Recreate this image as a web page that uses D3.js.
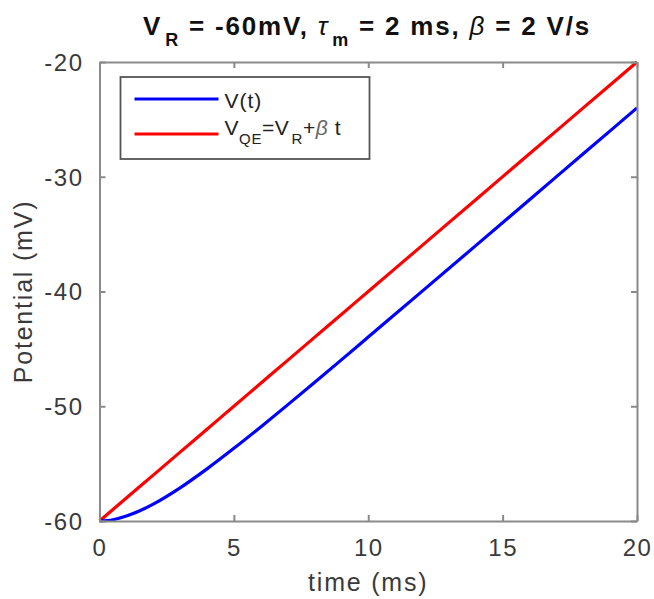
<!DOCTYPE html>
<html>
<head>
<meta charset="utf-8">
<script src="https://cdn.jsdelivr.net/npm/d3@7"></script>
<style>
  body { margin: 0; background: #fff; }
  svg text { font-family: "Liberation Sans", Arial, sans-serif; }
</style>
</head>
<body>
<svg id="chart" width="654" height="599"></svg>
<script>
// time samples (ms) and potentials (mV)
const timeMs = [0, 0.5, 1, 1.5, 2, 3, 4, 5, 6, 7, 8, 9, 10, 12, 14, 16, 18, 20];
const vMembrane = [-60, -59.89, -59.57, -59.11, -58.53, -57.11, -55.46, -53.67, -51.8, -49.88,
  -47.93, -45.96, -43.97, -39.99, -36.0, -32.0, -28.0, -24.0];
const vQE = [-60, -59, -58, -57, -56, -54, -52, -50, -48, -46, -44, -42, -40, -36, -32, -28, -24, -20];
const xTicks = [0, 5, 10, 15, 20];
const yTicks = [-60, -50, -40, -30, -20];

const svg = d3.select("#chart");
// Margin convention (plot box matches the reference)
const margin = { top: 62, right: 17, bottom: 78, left: 99.5 };
const width = 654, height = 599;
const innerW = width - margin.left - margin.right;
const innerH = height - margin.top - margin.bottom;

const x = d3.scaleLinear().domain([0, 20]).range([0, innerW]);
const y = d3.scaleLinear().domain([-60, -20]).range([innerH, 0]);

const g = svg.append("g").attr("transform", `translate(${margin.left},${margin.top})`);

const axisColor = "#8a8a8a";
const textColor = "#3a3a3a";

// data lines
const line = d3.line()
  .x((d, i) => x(timeMs[i]))
  .y((d) => y(d))
  .curve(d3.curveMonotoneX);

g.append("path").datum(vQE)
  .attr("d", line).attr("fill", "none")
  .attr("stroke", "#ff0000").attr("stroke-width", 3.2);
g.append("path").datum(vMembrane)
  .attr("d", line).attr("fill", "none")
  .attr("stroke", "#0000ff").attr("stroke-width", 3.2);

// axes (ticks inside, box on); plain hyphen for negatives like the original
const fmt = (d) => String(d);
const tickLen = 6;
const xAxisB = g.append("g").attr("transform", `translate(0,${innerH})`)
  .call(d3.axisBottom(x).tickValues(xTicks).tickFormat(fmt).tickSizeInner(-tickLen).tickSizeOuter(0).tickPadding(18));
const xAxisT = g.append("g")
  .call(d3.axisTop(x).tickValues(xTicks).tickSizeInner(-tickLen).tickSizeOuter(0).tickFormat(""));
const yAxisL = g.append("g")
  .call(d3.axisLeft(y).tickValues(yTicks).tickFormat(fmt).tickSizeInner(-tickLen).tickSizeOuter(0).tickPadding(16));
const yAxisR = g.append("g").attr("transform", `translate(${innerW},0)`)
  .call(d3.axisRight(y).tickValues(yTicks).tickSizeInner(-tickLen).tickSizeOuter(0).tickFormat(""));

[xAxisB, xAxisT, yAxisL, yAxisR].forEach((a) => {
  a.selectAll("path, line").attr("stroke", axisColor).attr("stroke-width", 2);
  a.selectAll("text").attr("fill", textColor).attr("font-size", 24)
    .attr("letter-spacing", 1.5)
    .style("font-family", "'Liberation Sans', Arial, sans-serif");
});
yAxisL.selectAll("text").attr("dy", "0.35em");

// axis labels
svg.append("text")
  .attr("x", margin.left + innerW / 2).attr("y", 591)
  .attr("text-anchor", "middle").attr("font-size", 25).attr("letter-spacing", 1.8)
  .attr("fill", textColor)
  .text("time (ms)");
svg.append("text")
  .attr("transform", `translate(32,${margin.top + innerH / 2}) rotate(-90)`)
  .attr("text-anchor", "middle").attr("font-size", 25).attr("letter-spacing", 1.8)
  .attr("fill", textColor)
  .text("Potential (mV)");

// title
const title = svg.append("text")
  .attr("x", 367).attr("y", 35)
  .attr("text-anchor", "middle").attr("font-size", 26).attr("font-weight", "bold")
  .attr("letter-spacing", 1.8).attr("fill", "#111");
title.append("tspan").text("V");
title.append("tspan").attr("font-size", 18).attr("dy", 11).attr("dx", 3).text("R");
title.append("tspan").attr("dy", -11).text(" = -60mV, ");
title.append("tspan").attr("font-style", "italic").attr("font-weight", "normal").text("τ");
title.append("tspan").attr("font-size", 18).attr("dy", 11).attr("dx", 3).text("m");
title.append("tspan").attr("dy", -11).text(" = 2 ms, ");
title.append("tspan").attr("font-style", "italic").attr("font-weight", "normal").text("β");
title.append("tspan").text(" = 2 V/s");

// legend
const leg = svg.append("g").attr("transform", "translate(120.5,77)");
leg.append("rect").attr("width", 249).attr("height", 82)
  .attr("fill", "#fff").attr("stroke", "#555").attr("stroke-width", 1.8);
const legendItems = [
  { color: "#0000ff", y: 22 },
  { color: "#ff0000", y: 57 }
];
legendItems.forEach((d) => {
  leg.append("line").attr("x1", 14).attr("x2", 98).attr("y1", d.y).attr("y2", d.y)
    .attr("stroke", d.color).attr("stroke-width", 3.2);
});
leg.append("text").attr("x", 104).attr("y", 31)
  .attr("font-size", 21).attr("letter-spacing", 1).attr("fill", "#222").text("V(t)");
const t2 = leg.append("text").attr("x", 104).attr("y", 58)
  .attr("font-size", 21).attr("letter-spacing", 0.6).attr("fill", "#222");
t2.append("tspan").text("V");
t2.append("tspan").attr("font-size", 15).attr("dy", 9).text("QE");
t2.append("tspan").attr("dy", -9).text("=V");
t2.append("tspan").attr("font-size", 15).attr("dy", 9).attr("dx", 2).text("R");
t2.append("tspan").attr("dy", -9).text("+");
t2.append("tspan").attr("font-style", "italic").attr("fill", "#666").text("β");
t2.append("tspan").text(" t");
</script>
</body>
</html>
